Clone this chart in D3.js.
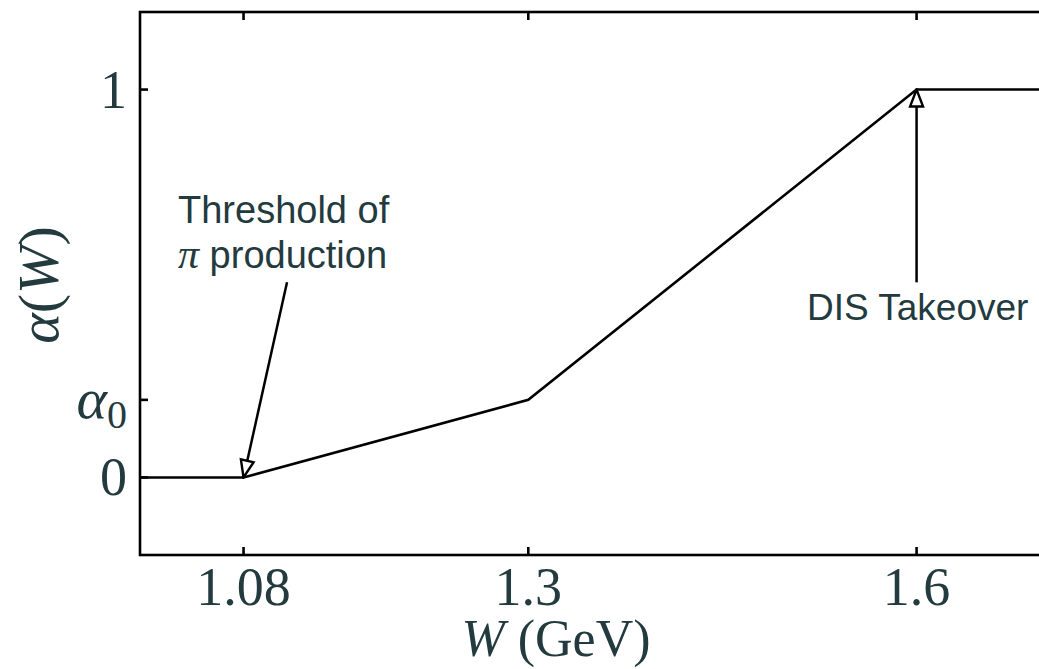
<!DOCTYPE html>
<html><head><meta charset="utf-8">
<script src="https://cdn.jsdelivr.net/npm/d3@7"></script>
<style>body{margin:0;background:#fff} svg{display:block}</style>
</head><body><svg id="chart" width="1039" height="669"></svg>
<script>
// Piecewise-linear ramp alpha(W)
const wKnots = [1.0, 1.08, 1.3, 1.6, 1.7];
const alphaKnots = [0, 0, 0.2, 1, 1];
const xTicks = [1.08, 1.3, 1.6];
const xTickLabels = ["1.08", "1.3", "1.6"];
const yTicks = [0, 0.2, 1];
const yTickLabels = ["0", "α0", "1"];
const xDomain = [1.0, 1.7];
const yDomain = [-0.2, 1.2];

const ink = "#233a3f";
const serif = "'Liberation Serif', 'DejaVu Serif', serif";
const sans = "'Liberation Sans', 'DejaVu Sans', sans-serif";

const svg = d3.select("#chart");
const plotL = 140, plotT = 12, plotR = 1046, plotB = 555;
const x = d3.scaleLinear().domain(xDomain).range([plotL, plotR]);
const y = d3.scaleLinear().domain(yDomain).range([plotB, plotT]);

// arrowhead marker (open triangle)
svg.append("defs").append("marker")
  .attr("id", "head").attr("markerUnits", "userSpaceOnUse")
  .attr("viewBox", "-20 -10 22 20").attr("refX", 0).attr("refY", 0)
  .attr("markerWidth", 22).attr("markerHeight", 20).attr("orient", "auto")
  .append("path").attr("d", "M0,0 L-17,-6.5 L-17,6.5 Z")
  .attr("fill", "#fff").attr("stroke", "#000").attr("stroke-width", 2.4)
  .attr("stroke-linejoin", "miter");

// frame
svg.append("rect").attr("x", plotL).attr("y", plotT)
  .attr("width", plotR - plotL).attr("height", plotB - plotT)
  .attr("fill", "none").attr("stroke", "#000").attr("stroke-width", 2.6);

// inward ticks
const tl = 8;
const g = svg.append("g").attr("stroke", "#000").attr("stroke-width", 2.6);
xTicks.forEach(t => {
  g.append("line").attr("x1", x(t)).attr("x2", x(t)).attr("y1", plotB).attr("y2", plotB - tl);
  g.append("line").attr("x1", x(t)).attr("x2", x(t)).attr("y1", plotT).attr("y2", plotT + tl);
});
yTicks.forEach(t => {
  g.append("line").attr("x1", plotL).attr("x2", plotL + tl).attr("y1", y(t)).attr("y2", y(t));
});

// x tick labels
xTicks.forEach((t, i) => {
  svg.append("text").attr("x", x(t)).attr("y", 605)
    .attr("text-anchor", "middle").attr("font-family", serif).attr("font-size", 54)
    .attr("fill", ink).text(xTickLabels[i]);
});

// y tick labels
yTicks.forEach((t, i) => {
  const lab = yTickLabels[i];
  const tx = svg.append("text").attr("x", 127).attr("y", y(t) + 18)
    .attr("text-anchor", "end").attr("font-family", serif).attr("font-size", 54)
    .attr("fill", ink);
  if (lab.startsWith("α")) {
    tx.append("tspan").attr("font-style", "italic").attr("font-size", 58).text("α");
    tx.append("tspan").attr("font-size", 40).attr("dy", 10).text(lab.slice(1));
  } else {
    tx.text(lab);
  }
});

// axis titles
const xt = svg.append("text").attr("x", 556).attr("y", 656)
  .attr("text-anchor", "middle").attr("font-family", serif).attr("font-size", 52).attr("fill", ink);
xt.append("tspan").attr("font-style", "italic").text("W");
xt.append("tspan").text(" (GeV)");

const yt = svg.append("text").attr("transform", "translate(58,285) rotate(-90)")
  .attr("text-anchor", "middle").attr("font-family", serif).attr("font-size", 58).attr("fill", ink);
yt.append("tspan").attr("font-style", "italic").text("α");
yt.append("tspan").text("(");
yt.append("tspan").attr("font-style", "italic").text("W");
yt.append("tspan").text(")");

// the curve
const pts = wKnots.map((w, i) => [w, alphaKnots[i]]);
svg.append("path").datum(pts)
  .attr("d", d3.line().x(d => x(d[0])).y(d => y(d[1])))
  .attr("fill", "none").attr("stroke", "#000").attr("stroke-width", 2.6)
  .attr("stroke-linejoin", "miter");

// annotations
const arrows = [
  { from: [1.1136, 0.503], to: [1.08, 0] },
  { from: [1.6, 0.503], to: [1.6, 1] }
];
arrows.forEach(a => {
  svg.append("line")
    .attr("x1", x(a.from[0])).attr("y1", y(a.from[1]))
    .attr("x2", x(a.to[0])).attr("y2", y(a.to[1]))
    .attr("stroke", "#000").attr("stroke-width", 2.5)
    .attr("marker-end", "url(#head)");
});

const t1 = svg.append("text").attr("font-family", sans).attr("font-size", 38).attr("fill", ink);
t1.append("tspan").attr("x", 178).attr("y", 223).text("Threshold of");
const l2 = t1.append("tspan").attr("x", 178).attr("y", 268);
l2.append("tspan").attr("font-family", serif).attr("font-style", "italic").attr("font-size", 42).text("π");
l2.append("tspan").text(" production");

svg.append("text").attr("x", 807).attr("y", 320)
  .attr("font-family", sans).attr("font-size", 37).attr("fill", ink).text("DIS Takeover");
</script></body></html>
